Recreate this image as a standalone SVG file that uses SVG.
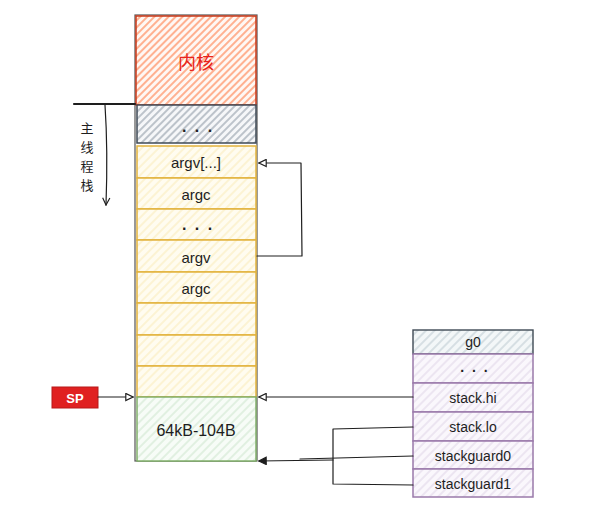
<svg xmlns="http://www.w3.org/2000/svg" width="602" height="511" viewBox="0 0 602 511">
<style>
.t{font-family:"Liberation Sans","Noto Sans CJK SC",sans-serif;fill:#1e1e1e;text-anchor:middle;dominant-baseline:central}
.d{font-family:"Liberation Sans",sans-serif;fill:#1e1e1e;text-anchor:middle;dominant-baseline:central;font-size:16px;font-weight:bold;letter-spacing:2px}
.cn{font-family:"Noto Sans CJK SC",sans-serif;fill:#1e1e1e;text-anchor:middle;dominant-baseline:central;font-size:13px}
.ln{fill:none;stroke:#1e1e1e;stroke-width:1.2;stroke-linejoin:round;stroke-linecap:round}
.y{stroke:#e2b33d;stroke-width:1.5;fill:url(#hy)}
.p{stroke:#9a7aaa;stroke-width:1.5;fill:url(#hp)}
</style>
<defs>
<pattern id="hr" patternUnits="userSpaceOnUse" width="5" height="5" patternTransform="rotate(45)"><rect width="5" height="5" fill="#fff8f4"/><line x1="1" y1="0" x2="1" y2="5" stroke="#ff9a70" stroke-width="1.5"/></pattern>
<pattern id="hg" patternUnits="userSpaceOnUse" width="5" height="5" patternTransform="rotate(45)"><rect width="5" height="5" fill="#f6f7f9"/><line x1="1" y1="0" x2="1" y2="5" stroke="#a4adb7" stroke-width="1.4"/></pattern>
<pattern id="hy" patternUnits="userSpaceOnUse" width="6" height="6" patternTransform="rotate(45)"><rect width="6" height="6" fill="#fffcf0"/><line x1="1" y1="0" x2="1" y2="6" stroke="#fbedc0" stroke-width="1.2"/></pattern>
<pattern id="hgr" patternUnits="userSpaceOnUse" width="6" height="6" patternTransform="rotate(45)"><rect width="6" height="6" fill="#f7fcf7"/><line x1="1" y1="0" x2="1" y2="6" stroke="#d3e9d3" stroke-width="1.2"/></pattern>
<pattern id="hb" patternUnits="userSpaceOnUse" width="6" height="6" patternTransform="rotate(45)"><rect width="6" height="6" fill="#f3f7f8"/><line x1="1" y1="0" x2="1" y2="6" stroke="#c7d2d8" stroke-width="1.3"/></pattern>
<pattern id="hp" patternUnits="userSpaceOnUse" width="6" height="6" patternTransform="rotate(45)"><rect width="6" height="6" fill="#faf7fc"/><line x1="1" y1="0" x2="1" y2="6" stroke="#e4daeb" stroke-width="1.2"/></pattern>
<marker id="ao" viewBox="0 0 10 10" refX="9" refY="5" markerWidth="9" markerHeight="9" orient="auto-start-reverse" markerUnits="userSpaceOnUse"><path d="M1,1 L9,5 L1,9 Z" fill="#fff" stroke="#1e1e1e" stroke-width="1.3"/></marker>
<marker id="af" viewBox="0 0 10 10" refX="9" refY="5" markerWidth="9" markerHeight="9" orient="auto-start-reverse" markerUnits="userSpaceOnUse"><path d="M1,1 L9,5 L1,9 Z" fill="#1e1e1e" stroke="#1e1e1e" stroke-width="1.3"/></marker>
<marker id="av" viewBox="0 0 10 10" refX="9" refY="5" markerWidth="9" markerHeight="9" orient="auto" markerUnits="userSpaceOnUse"><path d="M1,1 L9,5 L1,9" fill="none" stroke="#1e1e1e" stroke-width="1.3"/></marker>
</defs>

<g id="stack-column">
<rect x="135" y="15" width="122" height="446" fill="none" stroke="#555" stroke-width="1.2"/>
</g>
<g id="kernel">
<rect x="136" y="16" width="120" height="89" fill="url(#hr)" stroke="#c9381a" stroke-width="1.5"/>
<text class="t" x="196" y="61" style="fill:#e8231b;font-size:18px;font-family:'Noto Sans CJK SC',sans-serif">内核</text>
</g>
<g id="dots-top">
<rect x="137" y="105" width="119" height="38" fill="url(#hg)" stroke="#3f4a55" stroke-width="1.5"/>
<text class="d" x="198" y="126">. . .</text>
</g>
<g id="argv-arr">
<rect class="y" x="137" y="146" width="119" height="32"/>
<text class="t" x="196" y="162" style="font-size:15px">argv[...]</text>
</g>
<g id="argc-1">
<rect class="y" x="137" y="178" width="119" height="31"/>
<text class="t" x="196" y="194" style="font-size:15px">argc</text>
</g>
<g id="dots-mid">
<rect class="y" x="137" y="209" width="119" height="31"/>
<text class="d" x="198" y="224">. . .</text>
</g>
<g id="argv">
<rect class="y" x="137" y="240" width="119" height="32"/>
<text class="t" x="196" y="257" style="font-size:15px">argv</text>
</g>
<g id="argc-2">
<rect class="y" x="137" y="272" width="119" height="31"/>
<text class="t" x="196" y="288" style="font-size:15px">argc</text>
</g>
<g id="empty-1"><rect class="y" x="137" y="303" width="119" height="32"/></g>
<g id="empty-2"><rect class="y" x="137" y="335" width="119" height="31"/></g>
<g id="empty-3"><rect class="y" x="137" y="366" width="119" height="31"/></g>
<g id="guard">
<rect x="137" y="397" width="119" height="64" fill="url(#hgr)" stroke="#7aab62" stroke-width="1.4"/>
<text class="t" x="196" y="430" style="font-size:16px">64kB-104B</text>
</g>

<g id="main-stack-label">
<text class="cn" x="87" y="127">主</text>
<text class="cn" x="87" y="146">线</text>
<text class="cn" x="87" y="165">程</text>
<text class="cn" x="87" y="184">栈</text>
</g>

<g id="sp">
<rect x="52" y="387" width="46" height="21" fill="#e02020" stroke="#b81818" stroke-width="1"/>
<text class="t" x="75" y="398" style="fill:#fff;font-size:13px;font-weight:bold">SP</text>
</g>

<g id="g0">
<rect x="413" y="330" width="120" height="24" fill="url(#hb)" stroke="#3f4a55" stroke-width="1.4"/>
<text class="t" x="473" y="342" style="font-size:14px">g0</text>
</g>
<g id="g-dots">
<rect class="p" x="413" y="354" width="120" height="29"/>
<text class="d" x="475" y="367" style="font-size:14px">. . .</text>
</g>
<g id="stack-hi">
<rect class="p" x="413" y="383" width="120" height="29"/>
<text class="t" x="473" y="398" style="font-size:14px">stack.hi</text>
</g>
<g id="stack-lo">
<rect class="p" x="413" y="412" width="120" height="29"/>
<text class="t" x="473" y="427" style="font-size:14px">stack.lo</text>
</g>
<g id="stackguard0">
<rect class="p" x="413" y="441" width="120" height="28"/>
<text class="t" x="473" y="456" style="font-size:14px">stackguard0</text>
</g>
<g id="stackguard1">
<rect class="p" x="413" y="469" width="120" height="28"/>
<text class="t" x="473" y="484" style="font-size:14px">stackguard1</text>
</g>

<g id="connectors">
<path class="ln" d="M74,104 L135,104" style="stroke-width:2.2"/>
<path class="ln" d="M105,105 Q108,150 106,205" marker-end="url(#av)"/>
<path class="ln" d="M257,256 L302,256 L301,163 L259,163" marker-end="url(#ao)"/>
<path class="ln" d="M98,397 L133,397" marker-end="url(#ao)"/>
<path class="ln" d="M413,397 L259,397" marker-end="url(#ao)"/>
<path class="ln" d="M413,427 L333,429 L333,484 L413,485"/>
<path class="ln" d="M333,460 L259,461" marker-end="url(#af)"/>
<path class="ln" d="M413,456 L300,459"/>
</g>
</svg>
